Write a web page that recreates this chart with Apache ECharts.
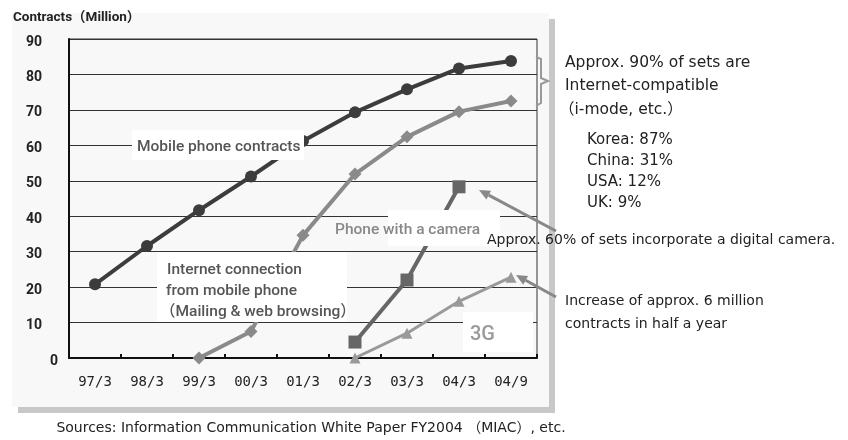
<!DOCTYPE html>
<html>
<head>
<meta charset="utf-8">
<script src="https://cdn.jsdelivr.net/npm/echarts@6/dist/echarts.min.js"></script>
<style>
html,body{margin:0;padding:0;background:#fff;}
#chart{width:848px;height:440px;}
</style>
</head>
<body>
<div id="chart"></div>
<script>
const categories = ['97/3', '98/3', '99/3', '00/3', '01/3', '02/3', '03/3', '04/3', '04/9'];
const mobileContracts = [20.8, 31.6, 41.7, 51.2, 61.2, 69.3, 75.8, 81.7, 83.8];
const internetConnection = [null, null, 0, 7.5, 34.6, 51.9, 62.4, 69.5, 72.5];
const cameraPhone = [null, null, null, null, null, 4.5, 22.0, 48.3, null];
const threeG = [null, null, null, null, null, 0, 7.0, 16.0, 22.8];
const yTicks = [0, 10, 20, 30, 40, 50, 60, 70, 80, 90];

const FONT = 'Roboto, "Noto Sans CJK JP", sans-serif';
const DFONT = '"DejaVu Sans", "Noto Sans CJK JP", sans-serif';

function arrow(x1, y1, x2, y2, color) {
  const a = Math.atan2(y2 - y1, x2 - x1);
  const L = 11, W = 5;
  const bx = x2 - L * Math.cos(a), by = y2 - L * Math.sin(a);
  const px = -Math.sin(a) * W, py = Math.cos(a) * W;
  return [
    {type: 'line', z: 100, shape: {x1: x1, y1: y1, x2: bx, y2: by}, style: {stroke: color, lineWidth: 3}},
    {type: 'polygon', z: 100, shape: {points: [[x2, y2], [bx + px, by + py], [bx - px, by - py]]}, style: {fill: color}}
  ];
}
function txt(x, y, text, font, color, align) {
  return {type: 'text', z: 110, x: x, y: y,
    style: {text: text, font: font, fill: color, textVerticalAlign: 'middle', textAlign: align || 'left'}};
}
function box(x, y, w, h) {
  return {type: 'rect', z: 90, shape: {x: x, y: y, width: w, height: h}, style: {fill: '#ffffff'}};
}

const chart = echarts.init(document.getElementById('chart'), null, {renderer: 'canvas'});

const graphics = [
  {type: 'rect', z: -20, shape: {x: 18, y: 19, width: 537, height: 394}, style: {fill: '#c8c8c8'}},
  {type: 'rect', z: -10, shape: {x: 12, y: 13, width: 537, height: 394}, style: {fill: '#f8f8f8'}},
  // label boxes covering lines
  box(132, 130, 172, 30),
  box(157, 252, 190, 70),
  box(388, 210, 112, 36),
  box(463, 312, 70, 40),
  txt(137, 147, 'Mobile phone contracts', '500 15.5px ' + FONT, '#555'),
  txt(167, 270, 'Internet connection', '500 15.5px ' + FONT, '#555'),
  txt(166, 291, 'from mobile phone', '500 15.5px ' + FONT, '#555'),
  txt(160, 312, '（Mailing & web browsing）', '500 15.5px ' + FONT, '#555'),
  txt(335, 230, 'Phone with a camera', '500 15.5px ' + FONT, '#888'),
  txt(470, 335, '3G', '500 20px ' + FONT, '#9a9a9a'),
  // right annotations
  {type: 'polyline', z: 100, shape: {points: [[536, 57], [541, 59], [541, 78], [548, 81], [541, 84], [541, 103], [536, 106]]},
    style: {stroke: '#999', lineWidth: 2, fill: null}},
  txt(565, 63, 'Approx. 90% of sets are', '15.5px ' + DFONT, '#222'),
  txt(565, 86, 'Internet-compatible', '15.5px ' + DFONT, '#222'),
  txt(559, 110, '（i-mode, etc.）', '15.5px ' + DFONT, '#222'),
  txt(587, 140, 'Korea: 87%', '15px ' + DFONT, '#222'),
  txt(587, 161, 'China: 31%', '15px ' + DFONT, '#222'),
  txt(587, 182, 'USA: 12%', '15px ' + DFONT, '#222'),
  txt(587, 203, 'UK: 9%', '15px ' + DFONT, '#222'),
  txt(487, 240, 'Approx. 60% of sets incorporate a digital camera.', '14px ' + DFONT, '#222'),
  txt(565, 301, 'Increase of approx. 6 million', '14px ' + DFONT, '#222'),
  txt(565, 324, 'contracts in half a year', '14px ' + DFONT, '#222'),
  txt(311, 428, 'Sources: Information Communication White Paper FY2004 （MIAC）, etc.', '14px ' + DFONT, '#222', 'center'),
  txt(13, 18, 'Contracts（Million）', 'bold 13.5px ' + FONT, '#222')
].concat(arrow(556, 231, 479, 190, '#888')).concat(arrow(556, 297, 516, 275, '#888'));

chart.setOption({
  animation: false,
  backgroundColor: 'transparent',
  grid: {left: 69, right: 311, top: 39, bottom: 82, show: true, borderColor: '#333', borderWidth: 1, backgroundColor: 'transparent'},
  xAxis: {
    type: 'category', data: categories, boundaryGap: true,
    axisLine: {lineStyle: {color: '#111', width: 2}},
    axisTick: {show: true, inside: true, length: 4, lineStyle: {color: '#111', width: 2}},
    axisLabel: {margin: 17, color: '#222', fontSize: 14, fontFamily: '"DejaVu Sans Mono", monospace'}
  },
  yAxis: {
    type: 'value', min: yTicks[0], max: yTicks[yTicks.length - 1], interval: yTicks[1] - yTicks[0],
    axisLine: {show: true, lineStyle: {color: '#111', width: 2}},
    axisTick: {show: false},
    splitLine: {lineStyle: {color: '#333', width: 1}},
    axisLabel: {
      margin: 11,
      formatter: function (v) { return v === 0 ? '{z|0}' : '{n|' + v + '}'; },
      rich: {
        z: {fontSize: 14, fontWeight: 'bold', color: '#222', fontFamily: FONT, padding: [6, 0, 0, 0]},
        n: {fontSize: 14, fontWeight: 'bold', color: '#222', fontFamily: FONT, padding: [6, 16, 0, 0]}
      }
    }
  },
  graphic: graphics,
  series: [
    {name: '3G', type: 'line', data: threeG, symbol: 'triangle', symbolSize: 11,
      itemStyle: {color: '#9a9a9a'}, lineStyle: {color: '#9a9a9a', width: 3}, z: 3},
    {name: 'Phone with a camera', type: 'line', data: cameraPhone, symbol: 'rect', symbolSize: 13,
      itemStyle: {color: '#666'}, lineStyle: {color: '#666', width: 4}, z: 3},
    {name: 'Internet connection', type: 'line', data: internetConnection, symbol: 'diamond', symbolSize: 13,
      itemStyle: {color: '#8a8a8a'}, lineStyle: {color: '#8a8a8a', width: 4}, z: 4},
    {name: 'Mobile phone contracts', type: 'line', data: mobileContracts, symbol: 'circle', symbolSize: 12,
      itemStyle: {color: '#3c3c3c'}, lineStyle: {color: '#3c3c3c', width: 4}, z: 5}
  ]
});
</script>
</body>
</html>
